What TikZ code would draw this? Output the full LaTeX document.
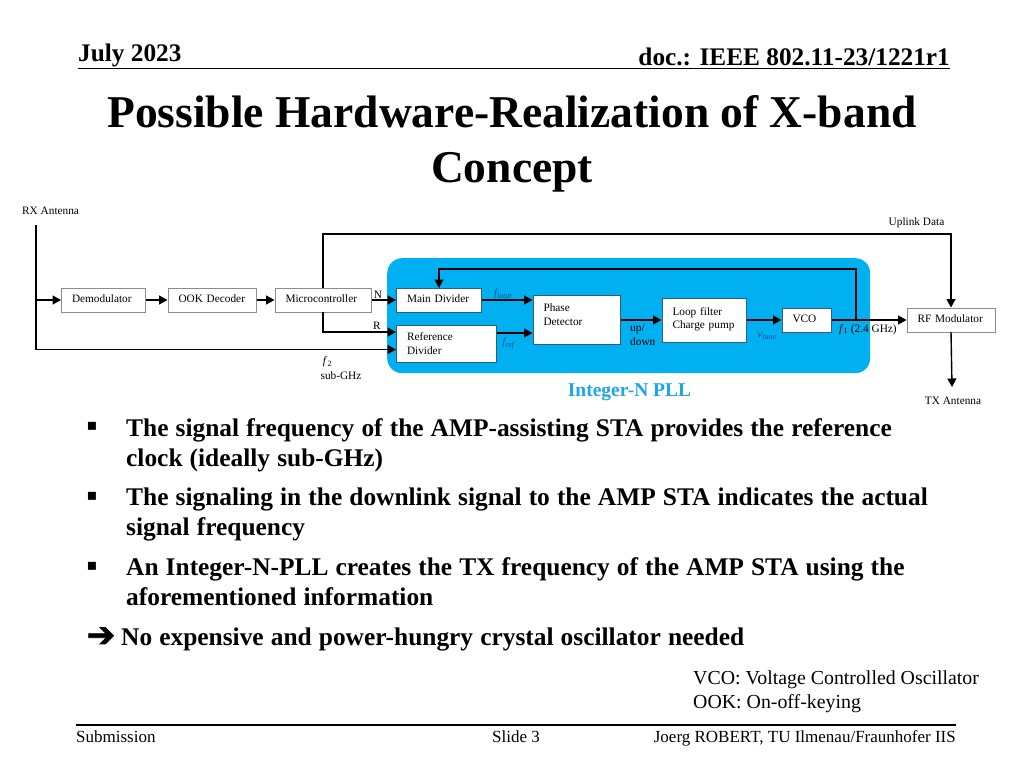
\documentclass[tikz,border=0pt]{standalone}
\usepackage{fontspec}
\setmainfont{Liberation Serif}
\newfontfamily\symfont{DejaVu Sans}
\newfontfamily\symbold[FakeBold=2.5]{DejaVu Sans}
\usetikzlibrary{arrows.meta}
\definecolor{pllblue}{HTML}{00B0F0}
\definecolor{plltext}{HTML}{1CA6E8}
\definecolor{labblue}{HTML}{06559A}
\definecolor{edgeinner}{HTML}{2F5F80}
\newcommand{\fs}[2]{\fontsize{#1}{#2}\selectfont}
\tikzset{
  blockbase/.style={draw=gray!90,line width=1pt,fill=white,inner ysep=0pt,inner xsep=10.5pt,align=left,font=\fs{11.3}{13.5},anchor=north west,xshift=-.5pt,yshift=.5pt},
  oneline/.style={text height=7.4pt,text depth=3.2pt},
  outerbox/.style={blockbase},
  innerbox/.style={blockbase,draw=edgeinner},
  conn/.style={draw=black,line width=1.4pt,-{Triangle[length=8.5pt,width=9pt]}},
  plainline/.style={draw=black,line width=1.4pt},
  lab/.style={inner sep=0pt,font=\fs{11.3}{13.5}},
  mlab/.style={inner sep=0pt,font=\fs{11.5}{13}\itshape,text=labblue},
  head/.style={inner sep=0pt,font=\fs{25.3}{30}\bfseries},
  foot/.style={inner sep=0pt,font=\fs{17}{20}},
  bullet/.style={inner sep=0pt,anchor=north west,text width=830pt,align=left,font=\fs{25.4}{30}\bfseries,execute at begin node={\spaceskip=7.1pt\relax}},
  bmark/.style={inner sep=0pt,font=\fs{16}{20}\symfont},
}
\begin{document}
\begin{tikzpicture}[x=1pt,y=-1pt]
\useasboundingbox (0,0) rectangle (1024,768);
\fill[white] (0,0) rectangle (1024,768);
% header
\node[head,anchor=base west] (date) at (78,61.5) {July 2023};
\node[head,anchor=base east] (doc) at (950,66) {doc.: IEEE 802.11-23/1221r1};
\draw[line width=1.3pt] (78,68.5) -- (950,68.5);
% title
\node[inner sep=0pt,anchor=base,font=\fs{45.5}{55}\bfseries] (title1) at (512,127) {Possible Hardware-Realization of X-band};
\node[inner sep=0pt,anchor=base,font=\fs{45.5}{55}\bfseries] (title2) at (512,182) {Concept};
% PLL area
\node[fill=pllblue,rounded corners=15pt,inner sep=0pt,minimum width=483pt,minimum height=115pt,anchor=north west] (pll) at (387,258) {};
% blocks
\node[outerbox,oneline,text width=63pt,minimum height=24pt] (demod) at (61.5,288) {Demodulator};
\node[outerbox,oneline,text width=67.5pt,minimum height=24pt] (ook) at (168,288) {OOK Decoder};
\node[outerbox,oneline,text width=75pt,minimum height=24pt] (micro) at (275,288) {Microcontroller};
\node[innerbox,oneline,text width=63.5pt,minimum height=24pt] (main) at (396.5,288) {Main Divider};
\node[innerbox,text width=78.5pt,minimum height=37pt] (ref) at (396.5,325) {Reference\\Divider};
\node[innerbox,text width=66pt,minimum height=49pt] (pd) at (533,295) {Phase\\Detector\\[-3.5pt]\mbox{}};
\node[innerbox,text width=63.5pt,minimum height=44pt] (loop) at (662,298) {Loop filter\\Charge pump\\[-9.5pt]\mbox{}};
\node[innerbox,oneline,text width=28.5pt,minimum height=24pt] (vco) at (782,308) {VCO};
\node[outerbox,oneline,text width=67pt,minimum height=24pt] (rf) at (907,308) {RF Modulator};
% free ends and bends
\coordinate (rxtop) at (36,225);
\coordinate (rxdemod) at (36,300);
\coordinate (rxref) at (36,349.5);
\coordinate (upA) at (323,234);
\coordinate (upB) at (951,234);
\coordinate (rfTop) at (951,307.5);
\coordinate (fbTap) at (856,320);
\coordinate (fbA) at (856,269);
\coordinate (fbB) at (439,269);
\coordinate (fbEnd) at (439,288);
\coordinate (microBot) at (323,312);
\coordinate (microTop) at (323,288);
\coordinate (rBend) at (323,332);
\coordinate (txEnd) at (952,387);
\coordinate (rfBot) at (951,332);
% connectors
\draw[plainline] (rxtop) -- (rxdemod);
\draw[conn] (rxdemod) -- (demod.west);
\draw[conn] (rxdemod) -- (rxref) -- (ref.west |- rxref);
\draw[conn] (demod.east) -- (ook.west);
\draw[conn] (ook.east) -- (micro.west);
\draw[conn] (micro.east) -- (main.west);
\draw[conn] (microTop) -- (upA) -- (upB) -- (rfTop);
\draw[conn] (microBot) -- (rBend) -- (ref.west |- rBend);
\draw[conn] (main.east) -- (main.east -| pd.west);
\draw[conn] (ref.east |- 0,333) -- (pd.west |- 0,333);
\draw[conn] (pd.east |- loop.west) -- (loop.west);
\draw[conn] (loop.east) -- (vco.west);
\draw[conn] (vco.east) -- (rf.west);
\draw[conn] (fbTap) -- (fbA) -- (fbB) -- (fbEnd);
\draw[conn] (rfBot) -- (txEnd);
% labels
\node[lab,anchor=west] (rxlab) at (22,211) {RX Antenna};
\node[lab] (uplab) at (916.5,222.5) {Uplink Data};
\node[lab] (txlab) at (953,400.5) {TX Antenna};
\node[lab] (nlab) at (378,295) {N};
\node[lab] (rlab) at (377,326) {R};
\node[lab,font=\fs{11.5}{13}] (f2lab) at (327.5,362) {\textit{f}\textsubscript{2}};
\node[lab] (sublab) at (341,375.5) {sub-GHz};
\node[mlab] (floop) at (503,294) {f\textsubscript{loop}};
\node[mlab] (fref) at (508.5,343) {f\textsubscript{ref}};
\node[lab,anchor=north west,align=left] (updown) at (630,324) {up/\\down};
\node[mlab] (vtune) at (767,336) {v\textsubscript{tune}};
\node[lab,anchor=west] (f1lab) at (839,329.5) {\textit{f}\textsubscript{1} (2.4 GHz)};
\node[inner sep=0pt,font=\fs{19.5}{24}\bfseries,text=plltext] (plllab) at (629.5,392) {Integer-N PLL};
% bullets
\node[bmark] (b1) at (92,426) {▪};
\node[bullet] (t1) at (126,418) {The signal frequency of the AMP-assisting STA provides the reference\\clock (ideally sub-GHz)};
\node[bmark] (b2) at (92,496) {▪};
\node[bullet] (t2) at (126,487.5) {The signaling in the downlink signal to the AMP STA indicates the actual\\signal frequency};
\node[bmark] (b3) at (92,566) {▪};
\node[bullet] (t3) at (126,557.5) {An Integer-N-PLL creates the TX frequency of the AMP STA using the\\aforementioned information};
\node[inner sep=0pt,font=\fs{34}{36}\symbold] (arrowmark) at (101,637) {➔};
\node[bullet] (t4) at (121,627.5) {No expensive and power-hungry crystal oscillator needed};
% note
\node[inner sep=0pt,anchor=base west,font=\fs{19.85}{24}] (n1) at (693,684) {VCO: Voltage Controlled Oscillator};
\node[inner sep=0pt,anchor=base west,font=\fs{19.85}{24}] (n2) at (693,708) {OOK: On-off-keying};
% footer
\draw[line width=1.3pt] (76,725) -- (956,725);
\node[foot,anchor=base west] (sub) at (76,742) {Submission};
\node[foot,anchor=base] (slide) at (516,742) {Slide 3};
\node[foot,anchor=base east] (auth) at (956,742) {Joerg ROBERT, TU Ilmenau/Fraunhofer IIS};
\end{tikzpicture}
\end{document}
